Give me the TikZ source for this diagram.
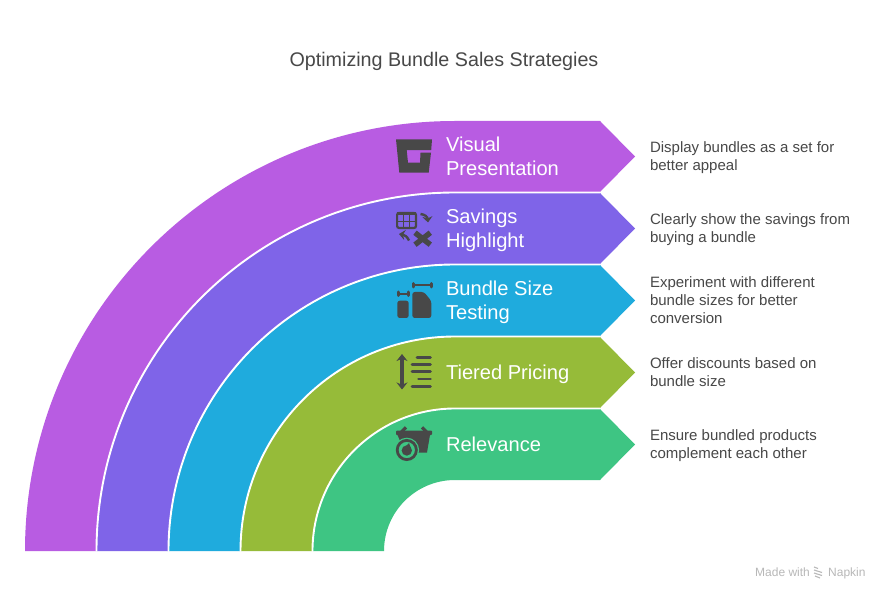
\documentclass[tikz,border=0pt]{standalone}
\usepackage{fontspec}
\setmainfont{Liberation Sans}
\usepackage{xcolor}
\usetikzlibrary{arrows.meta}
\definecolor{bandVisual}{HTML}{B85CE2}
\definecolor{bandSavings}{HTML}{7F64E8}
\definecolor{bandSize}{HTML}{1FABDD}
\definecolor{bandTiered}{HTML}{96BB39}
\definecolor{bandRelevance}{HTML}{3EC583}
\definecolor{textDark}{HTML}{484848}
\definecolor{iconDark}{HTML}{484848}
\definecolor{markGrey}{HTML}{B8B8B8}
\tikzset{
  gapline/.style = {draw = white, line width = 1.9pt},
  iconline/.style = {draw = iconDark, line width = 2.7pt},
  titletext/.style = {font = \fontsize{19.7}{24}\selectfont, text = textDark},
  bandtext/.style = {font = \fontsize{20.1}{24}\selectfont, text = white, anchor = west, align = left},
  desctext/.style = {font = \fontsize{15}{18}\selectfont, text = textDark, anchor = west, align = left},
  marktext/.style = {font = \fontsize{12}{14}\selectfont, text = markGrey, anchor = base west, inner sep = 0pt},
}

\begin{document}
\begin{tikzpicture}[x = 1pt, y = 1pt]
  \useasboundingbox (0, 0) rectangle (888, 600);
  \fill[white] (0, 0) rectangle (888, 600);
  % bands
  \fill[bandVisual] (25, 49) arc[start angle = 180, end angle = 90, radius = 430pt] -- (600, 479) -- (635, 443.5) -- (600, 408) -- (455, 407.5) arc[start angle = 90, end angle = 180, radius = 358.5pt] -- cycle;
  \fill[bandSavings] (97, 49) arc[start angle = 180, end angle = 90, radius = 358pt] -- (600, 407) -- (635, 371.5) -- (600, 336) -- (455, 336) arc[start angle = 90, end angle = 180, radius = 287pt] -- cycle;
  \fill[bandSize] (169, 49) arc[start angle = 180, end angle = 90, radius = 286pt] -- (600, 335) -- (635, 299.5) -- (600, 264) -- (455, 264) arc[start angle = 90, end angle = 180, radius = 215pt] -- cycle;
  \fill[bandTiered] (241, 49) arc[start angle = 180, end angle = 90, radius = 214pt] -- (600, 263) -- (635, 227.5) -- (600, 192) -- (455, 192) arc[start angle = 90, end angle = 180, radius = 143pt] -- cycle;
  \fill[bandRelevance] (313, 49) arc[start angle = 180, end angle = 90, radius = 142pt] -- (600, 191) -- (635, 155.5) -- (600, 120) -- (455, 120) arc[start angle = 90, end angle = 180, radius = 71pt] -- cycle;
  % white gaps
  \draw[gapline] (96.5, 49) arc[start angle = 180, end angle = 90, radius = 358.5pt] -- (600, 407.5);
  \draw[gapline] (168.5, 49) arc[start angle = 180, end angle = 90, radius = 286.5pt] -- (600, 335.5);
  \draw[gapline] (240.5, 49) arc[start angle = 180, end angle = 90, radius = 214.5pt] -- (600, 263.5);
  \draw[gapline] (312.5, 49) arc[start angle = 180, end angle = 90, radius = 142.5pt] -- (600, 191.5);
  % title
  \node[titletext] (title) at (444, 538.5) {Optimizing Bundle Sales Strategies};
  % band labels
  \node[bandtext] (visual) at (442.5, 444) {Visual\\Presentation};
  \node[bandtext] (savings) at (442.5, 370) {Savings\\Highlight};
  \node[bandtext] (size) at (442.5, 298) {Bundle Size\\Testing};
  \node[bandtext] (tiered) at (442.5, 226) {Tiered Pricing};
  \node[bandtext] (relevance) at (442.5, 156) {Relevance};
  % descriptions
  \node[desctext] (visualdesc) at (646.5, 442) {Display bundles as a set for\\better appeal};
  \node[desctext] (savingsdesc) at (646.5, 370) {Clearly show the savings from\\buying a bundle};
  \node[desctext] (sizedesc) at (646.5, 300) {Experiment with different\\bundle sizes for better\\conversion};
  \node[desctext] (tiereddesc) at (646.5, 228) {Offer discounts based on\\bundle size};
  \node[desctext] (relevancedesc) at (646.5, 154) {Ensure bundled products\\complement each other};
  % icon: visual
  \fill[iconDark] (396, 460.7) -- (432, 460.7) -- (431.2, 449.8) -- (406.7, 449.8) -- (408, 437.3) -- (420, 437.3) -- (420.5, 447.3) -- (431, 447.3) -- (428.7, 427.3) -- (399.3, 427.3) -- cycle;
  % icon: savings
  \draw[iconDark, line width = 2.2pt, rounded corners = 2pt] (397.1, 387) rectangle (416, 372);
  \fill[iconDark] (397, 388) rectangle (416, 384.5);
  \draw[iconDark, line width = 1.4pt] (403.4, 386) -- (403.4, 372) (409.7, 386) -- (409.7, 372) (397, 378.3) -- (416, 378.3);
  \draw[iconDark, line width = 2.4pt, -{Stealth[length = 6pt, width = 10pt]}] (420.5, 386) .. controls (425, 385.5) and (427.5, 383) .. (428, 377.5);
  \draw[iconDark, line width = 2.4pt, -{Stealth[length = 6pt, width = 10pt]}] (409, 359.5) .. controls (407, 363.5) and (405, 365) .. (399, 366);
  \draw[iconDark, line width = 5.4pt] (415, 367.3) -- (430.3, 355.3) (415, 355.3) -- (430.3, 367.3);
  % icon: bundle size
  \fill[iconDark, rounded corners = 2.5pt] (397.3, 282) rectangle (408.7, 299.3);
  \fill[iconDark, rounded corners = 2.5pt] (412.3, 282) -- (412.3, 308) -- (424, 308) -- (431.3, 299) -- (431.3, 282) -- cycle;
  \draw[iconDark, line width = 2pt] (398, 306.3) -- (408, 306.3);
  \draw[iconDark, line width = 3pt, line cap = round] (398, 304.5) -- (398, 308) (408, 304.5) -- (408, 308);
  \draw[iconDark, line width = 2pt] (413, 314.7) -- (431, 314.7);
  \draw[iconDark, line width = 3pt, line cap = round] (413, 313) -- (413, 316.5) (431, 313) -- (431, 316.5);
  % icon: tiered pricing
  \draw[iconDark, line width = 3.2pt, {Stealth[length = 7pt, width = 11pt]}-{Stealth[length = 7pt, width = 11pt]}] (402, 246) -- (402, 210.5);
  \draw[iconline, line cap = round] (417, 242.7) -- (430.5, 242.7);
  \draw[iconline, line cap = round] (412, 235.7) -- (430.5, 235.7);
  \draw[iconline, line cap = round] (412, 228.3) -- (430.5, 228.3);
  \draw[iconline, line cap = round] (418.5, 221) -- (430.5, 221);
  \draw[iconline, line cap = round] (412, 213.7) -- (430.5, 213.7);
  % icon: relevance
  \draw[iconDark, line width = 3.2pt] (401.5, 168) -- (406, 172.7) (426.5, 168) -- (422, 172.7);
  \fill[iconDark, rounded corners = 1pt] (396, 169.5) rectangle (432, 164.8);
  \fill[iconDark] (397.5, 165) -- (430, 165) -- (427, 147.5) -- (405, 147.5) -- cycle;
  \fill[bandRelevance] (406.8, 150) circle[radius = 12.3pt];
  \draw[iconDark, line width = 2.8pt] (406.8, 150) circle[radius = 9.6pt];
  \fill[iconDark] (406.8, 149.5) circle[radius = 5.2pt];
  \fill[iconDark] (405, 153) -- (409, 157) -- (411, 151) -- cycle;
  % watermark
  \node[marktext] (madewith) at (755, 24) {Made with};
  \draw[markGrey, line width = 1.1pt] (814, 33) -- (818, 31.5) (814, 30) -- (822, 27.5) (814, 27) -- (822, 24.5) (815, 24) -- (820, 22);
  \node[marktext] (napkin) at (828, 24) {Napkin};
\end{tikzpicture}
\end{document}
